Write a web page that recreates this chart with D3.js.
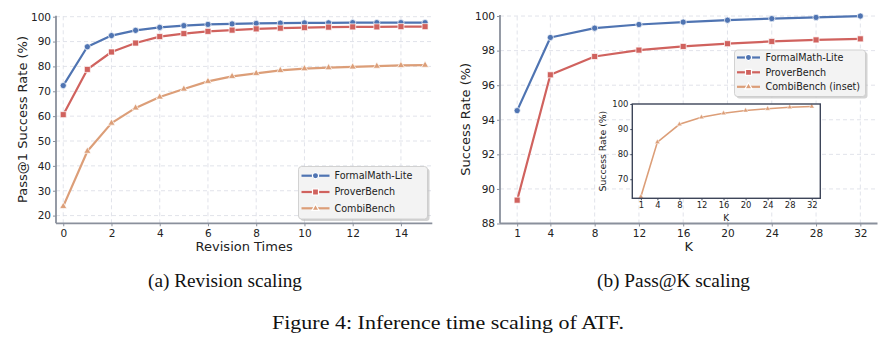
<!DOCTYPE html>
<html><head><meta charset="utf-8">
<script src="https://cdn.jsdelivr.net/npm/d3@7"></script>
<style>body{margin:0;background:#fff}svg{display:block}</style>
</head><body><svg id="c" width="893" height="343"></svg>
<script>
// ---- data ----
const revisions = [0,1,2,3,4,5,6,7,8,9,10,11,12,13,14,15];
const revFormal = [72.3,87.9,92.4,94.5,95.7,96.4,96.9,97.1,97.3,97.4,97.5,97.5,97.6,97.6,97.6,97.6];
const revProver = [60.6,78.8,85.8,89.4,92.0,93.2,94.1,94.6,95.1,95.4,95.6,95.8,95.9,95.9,96.0,96.0];
const revCombi  = [23.7,45.9,57.2,63.3,67.7,70.9,74.0,76.0,77.2,78.4,79.1,79.5,79.8,80.1,80.4,80.5];
const kValues = [1,4,8,12,16,20,24,28,32];
const kFormal = [94.53,98.76,99.3,99.51,99.65,99.76,99.85,99.92,100.0];
const kProver = [89.35,96.6,97.66,98.03,98.24,98.4,98.53,98.62,98.68];
const kCombi  = [63.0,84.8,91.9,94.7,96.3,97.4,98.1,98.7,99.0];
const leftXTicks = [0,2,4,6,8,10,12,14];
const leftYTicks = [20,30,40,50,60,70,80,90,100];
const rightYTicks = [88,90,92,94,96,98,100];
const insetYTicks = [70,80,90,100];
const seriesNames = ["FormalMath-Lite","ProverBench","CombiBench"];
const colors = ["#4f74b2","#d0625e","#dc9e78"];

const svg = d3.select("#c");
const sans = "DejaVu Sans, sans-serif";
const spine = "#8a909c";
const gridC = "#d9dce4";

function symbolFor(i, size){
  const t = [d3.symbolCircle, d3.symbolSquare, d3.symbolTriangle][i];
  return d3.symbol().type(t).size(size)();
}

function panel(o){
  const g = svg.append("g");
  const x = d3.scaleLinear().domain(o.xd).range(o.xr);
  const y = d3.scaleLinear().domain(o.yd).range(o.yr);
  g.append("g").selectAll("line").data(o.xt).join("line")
    .attr("x1",d=>x(d)).attr("x2",d=>x(d)).attr("y1",o.yr[0]).attr("y2",o.yr[1])
    .attr("stroke",gridC).attr("stroke-width",0.8).attr("stroke-dasharray","4,3");
  g.append("g").selectAll("line").data(o.yt).join("line")
    .attr("x1",o.xr[0]).attr("x2",o.xr[1]).attr("y1",d=>y(d)).attr("y2",d=>y(d))
    .attr("stroke",gridC).attr("stroke-width",0.8).attr("stroke-dasharray","4,3");
  const ax = g.append("g").attr("transform",`translate(0,${o.yr[0]})`)
    .call(d3.axisBottom(x).tickValues(o.xt).tickSize(3).tickPadding(3).tickFormat(d3.format("d")));
  const ay = g.append("g").attr("transform",`translate(${o.xr[0]},0)`)
    .call(d3.axisLeft(y).tickValues(o.yt).tickSize(3).tickPadding(2).tickFormat(d3.format("d")));
  [ax,ay].forEach(a=>{
    a.select(".domain").remove();
    a.selectAll(".tick line").attr("stroke",spine);
    a.selectAll("text").attr("font-family",sans).attr("font-size",10.5).attr("fill","#222");
  });
  g.append("line").attr("x1",o.xr[0]).attr("x2",o.xr[1]).attr("y1",o.yr[0]).attr("y2",o.yr[0])
    .attr("stroke",spine).attr("stroke-width",1.8);
  g.append("line").attr("x1",o.xr[0]).attr("x2",o.xr[0]).attr("y1",o.yr[0]).attr("y2",o.yr[1])
    .attr("stroke",spine).attr("stroke-width",1.8);
  g.append("text").attr("x",(o.xr[0]+o.xr[1])/2).attr("y",251).attr("text-anchor","middle")
    .attr("font-family",sans).attr("font-size",13).attr("fill","#222").text(o.xl);
  g.append("text").attr("transform",`translate(${o.ylx},${(o.yr[0]+o.yr[1])/2}) rotate(-90)`)
    .attr("text-anchor","middle").attr("font-family",sans).attr("font-size",13).attr("fill","#222").text(o.yl);
  o.series.forEach((s,i)=>{
    const pts = o.xs.map((v,j)=>[x(v),y(s[j])]);
    g.append("path").attr("d",d3.line()(pts)).attr("fill","none")
      .attr("stroke",colors[i]).attr("stroke-width",2.2).attr("stroke-linejoin","round");
    g.append("g").selectAll("path").data(pts).join("path")
      .attr("transform",d=>`translate(${d[0]},${d[1]})`)
      .attr("d",symbolFor(i,[30,36,22][i])).attr("fill",colors[i])
      .attr("stroke","#fff").attr("stroke-width",0.7);
  });
  return {x,y,g};
}

panel({xd:[-0.3,15.3], xr:[56,432.3], yd:[16.9,100.4], yr:[223.3,15.7],
  xt:leftXTicks, yt:leftYTicks, xs:revisions, series:[revFormal,revProver,revCombi],
  xl:"Revision Times", yl:"Pass@1 Success Rate (%)", ylx:27});

panel({xd:[-0.55,33.55], xr:[500,877.5], yd:[88,100.06], yr:[223.5,15],
  xt:kValues, yt:rightYTicks, xs:kValues, series:[kFormal,kProver],
  xl:"K", yl:"Success Rate (%)", ylx:470});

function legend(x0,y0,w,h,rowY,labels,hx,tx){
  const g = svg.append("g");
  g.append("rect").attr("x",x0+2).attr("y",y0+2).attr("width",w).attr("height",h).attr("rx",3)
    .attr("fill","#b8b8b8").attr("opacity",0.6);
  g.append("rect").attr("x",x0).attr("y",y0).attr("width",w).attr("height",h).attr("rx",3)
    .attr("fill","#f3f3f3").attr("stroke","#c8c8c8").attr("stroke-width",0.8);
  labels.forEach((lab,i)=>{
    const yy = rowY[i];
    g.append("line").attr("x1",hx[0]).attr("x2",hx[1]).attr("y1",yy).attr("y2",yy)
      .attr("stroke",colors[i]).attr("stroke-width",2.2);
    g.append("path").attr("transform",`translate(${(hx[0]+hx[1])/2},${yy})`)
      .attr("d",symbolFor(i,[30,36,22][i])).attr("fill",colors[i]).attr("stroke","#fff").attr("stroke-width",1.2);
    g.append("text").attr("x",tx).attr("y",yy).attr("dy","0.35em").attr("font-family",sans)
      .attr("font-size",9.6).attr("fill","#222").text(lab);
  });
}
legend(298.5,166.5,129,52.5,[175.7,192,208.3],seriesNames,[301.5,329.5],334.5);
legend(734.5,50,131,46.5,[57.5,72.3,86.8],["FormalMath-Lite","ProverBench","CombiBench (inset)"],[737,760],765.5);

(function(){
  const L=632.3, Rr=820.3, T=104, B=198.3;
  const g = svg.append("g");
  g.append("rect").attr("x",L).attr("y",T).attr("width",Rr-L).attr("height",B-T).attr("fill","#fff");
  const x = d3.scaleLinear().domain([-0.55,33.55]).range([L,Rr]);
  const y = d3.scaleLinear().domain([62.4,100]).range([B,T]);
  const pts = kValues.map((v,j)=>[x(v),y(kCombi[j])]);
  g.append("path").attr("d",d3.line()(pts)).attr("fill","none").attr("stroke",colors[2]).attr("stroke-width",1.6);
  g.append("g").selectAll("path").data(pts).join("path")
    .attr("transform",d=>`translate(${d[0]},${d[1]})`)
    .attr("d",symbolFor(2,12)).attr("fill",colors[2]).attr("stroke","#fff").attr("stroke-width",0.5);
  const ax = g.append("g").attr("transform",`translate(0,${B})`)
    .call(d3.axisBottom(x).tickValues(kValues).tickSize(2).tickPadding(2).tickFormat(d3.format("d")));
  const ay = g.append("g").attr("transform",`translate(${L},0)`)
    .call(d3.axisLeft(y).tickValues(insetYTicks).tickSize(2).tickPadding(2).tickFormat(d3.format("d")));
  [ax,ay].forEach(a=>{
    a.select(".domain").remove();
    a.selectAll(".tick line").attr("stroke","#3d4559");
    a.selectAll("text").attr("font-family",sans).attr("font-size",8.4).attr("fill","#222");
  });
  g.append("rect").attr("x",L).attr("y",T).attr("width",Rr-L).attr("height",B-T)
    .attr("fill","none").attr("stroke","#3d4559").attr("stroke-width",1.4);
  g.append("text").attr("x",(L+Rr)/2).attr("y",221).attr("text-anchor","middle")
    .attr("font-family",sans).attr("font-size",9).attr("fill","#222").text("K");
  g.append("text").attr("transform",`translate(606,${(T+B)/2}) rotate(-90)`).attr("text-anchor","middle")
    .attr("font-family",sans).attr("font-size",9.3).attr("fill","#222").text("Success Rate (%)");
})();

const serif = "Liberation Serif, Times New Roman, serif";
function caption(x,y,size,len,txt){
  svg.append("text").attr("x",x).attr("y",y).attr("text-anchor","middle").attr("font-family",serif)
    .attr("font-size",size).attr("fill","#111").attr("textLength",len)
    .attr("lengthAdjust","spacingAndGlyphs").text(txt);
}
caption(225,287,18.5,154,"(a) Revision scaling");
caption(673.5,287,18.5,153,"(b) Pass@K scaling");
caption(448,329,19.5,352,"Figure 4: Inference time scaling of ATF.");
</script></body></html>
